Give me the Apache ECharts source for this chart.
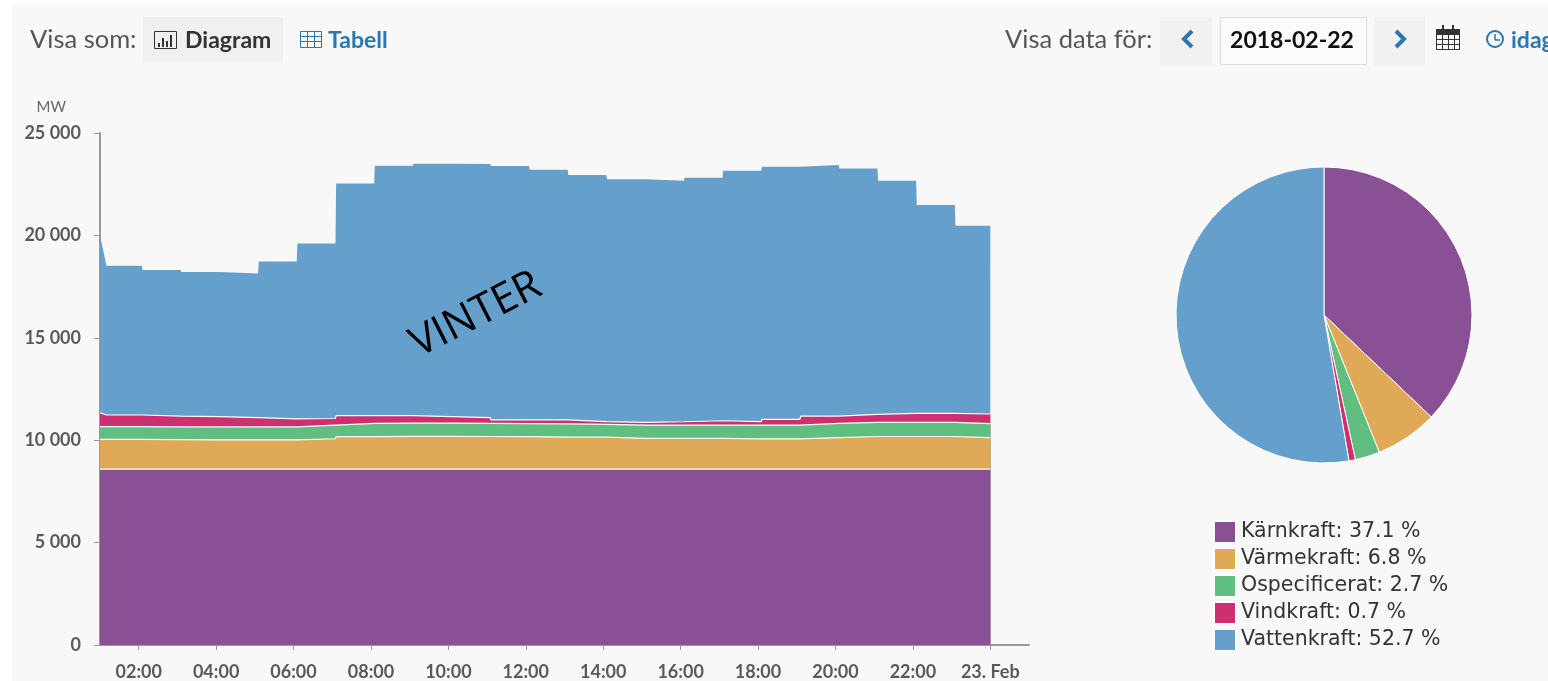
<!DOCTYPE html>
<html>
<head>
<meta charset="utf-8">
<style>html,body{margin:0;padding:0;background:#fff;overflow:hidden}#c{width:1548px;height:681px}</style>
<script src="https://cdn.jsdelivr.net/npm/echarts@6/dist/echarts.min.js"></script>
</head>
<body>
<div id="c"></div>
<script>
// sample start times (hour, minute) on 2018-02-22
const sampleTimes = ['01:00','01:10','02:05','03:05','04:05','05:05','06:05','07:05','08:05','09:05','10:05','11:05','12:05','13:05','14:05','15:05','16:05','17:05','18:05','19:05','20:05','21:05','22:05','23:05'];
const nuclear = [8590,8590,8590,8590,8590,8590,8590,8590,8590,8590,8590,8590,8590,8590,8590,8590,8590,8590,8590,8590,8590,8590,8590,8590];
const thermal = [1450,1450,1440,1430,1430,1430,1480,1580,1600,1600,1590,1580,1560,1560,1500,1495,1495,1470,1470,1540,1590,1590,1590,1540];
const unspecified = [620,620,620,630,630,630,670,650,640,640,640,640,650,620,650,655,655,680,680,690,690,690,690,680];
const wind = [680,570,530,500,450,390,320,380,370,320,280,180,190,140,130,160,210,170,280,360,390,440,440,470];
const hydro = [8660,7290,7130,7060,7040,7680,8550,11340,12200,12350,12390,12400,12220,12040,11870,11770,11870,12250,12330,12260,12010,11360,10170,9190];

const sourceNames = ['Kärnkraft','Värmekraft','Ospecificerat','Vindkraft','Vattenkraft'];
const sourceShares = [37.1,6.8,2.7,0.7,52.7];
const sourceColors = ['#8a5096','#dfa957','#60be80','#cd2f6f','#659fcb'];

const xTickHours = [2,4,6,8,10,12,14,16,18,20,22,24];
const xTickLabels = ['02:00','04:00','06:00','08:00','10:00','12:00','14:00','16:00','18:00','20:00','22:00','23. Feb'];
const yTickLabels = ['0','5 000','10 000','15 000','20 000','25 000'];

const hourOf = (h, m) => h + (m || 0) / 60;
function expand(values) {
  const pts = [];
  sampleTimes.forEach((t, i) => {
    const [h, m] = t.split(':').map(Number);
    if (i >= 2) pts.push([hourOf(h, m), values[i - 1]]);
    pts.push([hourOf(h, i >= 2 ? m + 1 : m), values[i]]);
  });
  pts.push([24, values[values.length - 1]]);
  return pts;
}
// Stacked totals, painted from the top band down so each lower band covers the one above.
const seriesValues = [nuclear, thermal, unspecified, wind, hydro];
const running = sampleTimes.map(() => 0);
const areaSeries = seriesValues.map((v, i) => {
  v.forEach((x, k) => { running[k] += x; });
  return {
    type: 'line', name: sourceNames[i] + ' (MW)', data: expand(running.slice()),
    showSymbol: false, symbol: 'none', smooth: false, z: 7 - i, clip: true,
    lineStyle: {color: '#fff', width: i === 4 ? 0 : 1.2},
    itemStyle: {color: sourceColors[i]},
    areaStyle: {color: sourceColors[i], opacity: 1},
    emphasis: {disabled: true}
  };
}).reverse();

const LATO = 'Lato';
const txt = (x, y, text, size, color, weight, align) => ({
  type: 'text', x, y, z: 50,
  style: {text, fontFamily: LATO, fontSize: size, fill: color, fontWeight: weight || 'normal', textAlign: align || 'left', textVerticalAlign: 'middle'}
});
const box = (x, y, w, h, fill, stroke) => ({
  type: 'rect', z: 40, shape: {x, y, width: w, height: h},
  style: {fill: fill || 'none', stroke: stroke || 'none', lineWidth: 1}
});
const ln = (x1, y1, x2, y2, c, w) => ({
  type: 'line', z: 51, shape: {x1, y1, x2, y2}, style: {stroke: c, lineWidth: w || 1}
});
const chevron = (pts, c) => ({
  type: 'polyline', z: 51, shape: {points: pts}, style: {stroke: c, lineWidth: 4, fill: 'none'}
});
const BLUE = '#2c76b2', DARK = '#333';

const gfx = [
  Object.assign(box(12, 4, 1536, 677, '#f8f8f8'), {z: -10}),
  txt(30, 40, 'Visa som:', 25.5, '#555'),
  box(143, 17, 140, 45, '#f0f0f0'),
  box(154.5, 31.5, 22, 17, 'none', DARK),
  ln(159, 47, 159, 43, DARK, 2), ln(163, 47, 163, 38, DARK, 2), ln(167, 47, 167, 41, DARK, 2), ln(171, 47, 171, 35, DARK, 2),
  txt(185, 41, 'Diagram', 23, DARK, 'bold'),
  box(300.5, 31.5, 21, 16, 'none', BLUE),
  ln(300, 36.5, 322, 36.5, BLUE), ln(300, 41.5, 322, 41.5, BLUE), ln(307.5, 32, 307.5, 47, BLUE), ln(314.5, 32, 314.5, 47, BLUE),
  txt(328, 41, 'Tabell', 23, BLUE, 'bold'),
  txt(1005, 40, 'Visa data för:', 25.5, '#555'),
  box(1160, 17, 52, 49, '#f1f1f1'),
  chevron([[1192, 31], [1184, 39], [1192, 47]], BLUE),
  box(1220.5, 17.5, 146, 47, '#fbfbfb', '#ddd'),
  txt(1292, 41, '2018-02-22', 23, '#111', 'bold', 'center'),
  box(1374, 17, 51, 49, '#f1f1f1'),
  chevron([[1396, 31], [1404, 39], [1396, 47]], BLUE),
  box(1436.5, 29.5, 23, 20, 'none', DARK),
  box(1436, 29, 24, 6, DARK),
  ln(1443, 25, 1443, 31, DARK, 2), ln(1453, 25, 1453, 31, DARK, 2),
  ln(1437, 39.5, 1459, 39.5, DARK), ln(1437, 44.5, 1459, 44.5, DARK),
  ln(1442.5, 35, 1442.5, 49, DARK), ln(1448.5, 35, 1448.5, 49, DARK), ln(1454.5, 35, 1454.5, 49, DARK),
  {type: 'circle', z: 51, shape: {cx: 1495, cy: 39, r: 8}, style: {fill: 'none', stroke: BLUE, lineWidth: 2}},
  ln(1495, 34, 1495, 40, BLUE, 1.5), ln(1495, 40, 1500, 40, BLUE, 1.5),
  txt(1511, 41, 'idag', 23, BLUE, 'bold'),
  {type: 'text', z: 100, x: 476, y: 315, rotation: 27 * Math.PI / 180,
   style: {text: 'VINTER', fontFamily: 'Open Sans', fontSize: 42, fill: '#000', textAlign: 'center', textVerticalAlign: 'middle'}}
];

const chart = echarts.init(document.getElementById('c'), null, {renderer: 'canvas'});
chart.setOption({
  animation: false,
  backgroundColor: '#fff',
  graphic: {elements: gfx},
  grid: {left: 100, right: 519, top: 133, bottom: 36, containLabel: false},
  xAxis: {
    type: 'value', min: 1, max: 25,
    axisLine: {show: true, onZero: false, lineStyle: {color: '#999', width: 2}},
    axisTick: {show: true, length: 5, lineStyle: {color: '#999'}, customValues: xTickHours},
    splitLine: {show: false},
    axisLabel: {
      customValues: xTickHours,
      margin: 18, fontFamily: LATO, fontSize: 18, fontWeight: 'bold', color: '#5a5a5a', hideOverlap: false,
      showMinLabel: true, showMaxLabel: true,
      formatter: v => xTickLabels[xTickHours.indexOf(v)] || ''
    }
  },
  yAxis: {
    type: 'value', min: 0, max: 25000, interval: 5000,
    name: 'MW', nameLocation: 'end', nameGap: 18,
    nameTextStyle: {fontFamily: LATO, fontSize: 15, color: '#666', align: 'right', padding: [0, 34, 0, 0]},
    axisLine: {show: true, lineStyle: {color: '#999', width: 2}},
    axisTick: {show: true, length: 6, lineStyle: {color: '#999'}},
    splitLine: {show: false},
    axisLabel: {
      margin: 19, fontFamily: LATO, fontSize: 18, fontWeight: 'bold', color: '#5a5a5a',
      formatter: v => yTickLabels[v / 5000]
    }
  },
  legend: {
    orient: 'vertical', left: 1208, top: 515, itemWidth: 22, itemHeight: 22, itemGap: 3,
    icon: 'rect', selectedMode: false, data: sourceNames,
    textStyle: {fontFamily: 'DejaVu Sans', fontSize: 20.5, color: '#333', lineHeight: 20, height: 20},
    formatter: n => n + ': ' + sourceShares[sourceNames.indexOf(n)] + ' %'
  },
  series: [...areaSeries, {
    type: 'pie', center: [1324, 315], radius: [0, 148], startAngle: 90, clockwise: true,
    label: {show: false}, labelLine: {show: false}, silent: true, z: 3,
    itemStyle: {borderColor: '#fff', borderWidth: 1},
    data: sourceNames.map((n, i) => ({name: n, value: sourceShares[i], itemStyle: {color: sourceColors[i]}}))
  }]
});
</script>
</body>
</html>
